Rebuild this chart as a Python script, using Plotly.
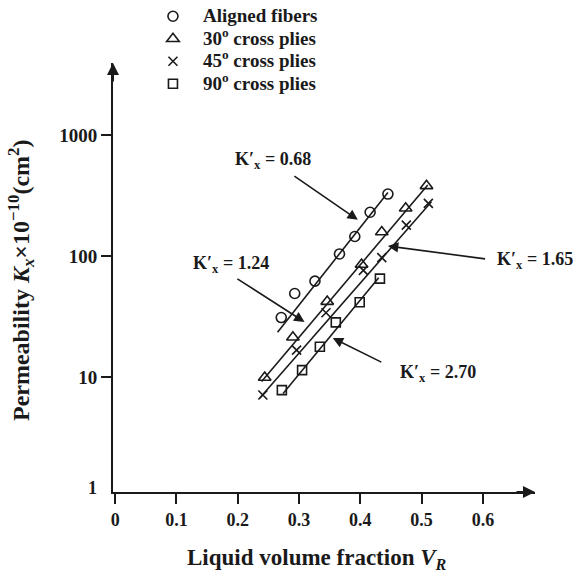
import math
import plotly.graph_objects as go

# ---------------- data ----------------
aligned_x = [0.271, 0.293, 0.326, 0.366, 0.391, 0.416, 0.445]
aligned_y = [31, 49, 62, 104, 145, 230, 325]
aligned_fit_x = [0.265, 0.445]
aligned_fit_y = [23.5, 335]

ply30_x = [0.244, 0.290, 0.346, 0.402, 0.435, 0.474, 0.508]
ply30_y = [9.9, 21.3, 42, 85, 158, 248, 380]
ply30_fit_x = [0.239, 0.510]
ply30_fit_y = [9.2, 386]

ply45_x = [0.241, 0.296, 0.344, 0.405, 0.435, 0.475, 0.511]
ply45_y = [7.1, 16.7, 34, 76, 97, 180, 272]
ply45_fit_x = [0.236, 0.516]
ply45_fit_y = [6.7, 281]

ply90_x = [0.272, 0.305, 0.334, 0.360, 0.399, 0.432]
ply90_y = [7.8, 11.4, 17.8, 28.3, 41.5, 65]
ply90_fit_x = [0.274, 0.430]
ply90_fit_y = [7.3, 66]

series_names = ["Aligned fibers", "30<sup>o</sup> cross plies",
                "45<sup>o</sup> cross plies", "90<sup>o</sup> cross plies"]

x_tick_vals = [0, 0.1, 0.2, 0.3, 0.4, 0.5, 0.6]
x_tick_text = ["0", "0.1", "0.2", "0.3", "0.4", "0.5", "0.6"]
y_tick_vals = [10, 100, 1000]
y_tick_text = ["10", "100", "1000"]

slope_labels = ["K′<sub>x</sub> = 0.68", "K′<sub>x</sub> = 1.24",
                "K′<sub>x</sub> = 1.65", "K′<sub>x</sub> = 2.70"]

x_title = "Liquid volume fraction <i>V<sub>R</sub></i>"
y_title = "Permeability <i>K<sub>x</sub></i>×10<sup>−10</sup>(cm<sup>2</sup>)"

# ---------------- styling / layout positions ----------------
FONT = "Liberation Serif, Times New Roman, serif"
BLACK = "#1a1a1a"

W, H = 573, 578
M_L, M_R, M_T, M_B = 113, 38, 0, 86
PLOT_TOP_PX = 63
PAPER_H = H - M_B - M_T
Y_DOMAIN_TOP = (PAPER_H - PLOT_TOP_PX) / PAPER_H

# label placements: (text x, text value y, tail x, tail value y, tip x, tip value y)
label_pos = [
    (0.192, 618, 0.290, 467, 0.396, 199),
    (0.123, 85, 0.197, 66, 0.309, 28.5),
    (0.620, 92, 0.606, 94.4, 0.445, 121),
    (0.461, 10.6, 0.4367, 13.1, 0.355, 21),
]

fig = go.Figure()

markers = [
    dict(symbol="circle-open", size=10),
    dict(symbol="triangle-up-open", size=11),
    dict(symbol="x-thin-open", size=9),
    dict(symbol="square-open", size=9),
]
data_sets = [
    (aligned_x, aligned_y, aligned_fit_x, aligned_fit_y),
    (ply30_x, ply30_y, ply30_fit_x, ply30_fit_y),
    (ply45_x, ply45_y, ply45_fit_x, ply45_fit_y),
    (ply90_x, ply90_y, ply90_fit_x, ply90_fit_y),
]

for (xs, ys, fx, fy), name, mk in zip(data_sets, series_names, markers):
    fig.add_trace(go.Scatter(
        x=fx, y=fy, mode="lines", showlegend=False, hoverinfo="skip",
        line=dict(color=BLACK, width=1.6)))
    fig.add_trace(go.Scatter(
        x=xs, y=ys, mode="markers",
        name="<span style='font-size:19px'>" + name + "</span>",
        marker=dict(symbol=mk["symbol"], size=mk["size"], color=BLACK,
                    line=dict(color=BLACK, width=1.6))))

annotations = []
for txt, (tx, ty, ax_, ay_, hx, hy) in zip(slope_labels, label_pos):
    annotations.append(dict(
        x=tx, y=math.log10(ty), xref="x", yref="y", text=txt, showarrow=False,
        xanchor="left", yanchor="middle",
        font=dict(family=FONT, size=18, color=BLACK, weight="bold")))
    annotations.append(dict(
        x=hx, y=math.log10(hy), ax=ax_, ay=math.log10(ay_), xref="x", yref="y",
        axref="x", ayref="y", text="", showarrow=True, arrowhead=2,
        arrowsize=1.3, arrowwidth=1.6, arrowcolor=BLACK))

# axis arrowheads
annotations.append(dict(x=0, y=Y_DOMAIN_TOP, xref="paper", yref="paper", ax=0, ay=20,
                        text="", showarrow=True, arrowhead=2, arrowsize=1.2,
                        arrowwidth=2, arrowcolor=BLACK))
annotations.append(dict(x=1, y=0, xref="paper", yref="paper", ax=-20, ay=0,
                        text="", showarrow=True, arrowhead=2, arrowsize=1.2,
                        arrowwidth=2, arrowcolor=BLACK))
# "1" label at the bottom of the log axis
annotations.append(dict(x=0, y=0, xref="paper", yref="paper", text="1",
                        showarrow=False, xanchor="right", yanchor="middle",
                        xshift=-14, yshift=4,
                        font=dict(family=FONT, size=18, color=BLACK, weight="bold")))
# axis titles
annotations.append(dict(x=(317 - M_L) / (W - M_L - M_R), y=(PAPER_H - 559) / PAPER_H,
                        xref="paper", yref="paper", text=x_title, showarrow=False,
                        xanchor="center", yanchor="middle",
                        font=dict(family=FONT, size=23, color=BLACK, weight="bold")))
annotations.append(dict(x=0, y=(PAPER_H - 281) / PAPER_H, xshift=21 - M_L,
                        xref="paper", yref="paper", text=y_title, showarrow=False,
                        textangle=-90, xanchor="center", yanchor="middle",
                        font=dict(family=FONT, size=24, color=BLACK, weight="bold")))

fig.update_layout(
    width=W, height=H,
    margin=dict(l=M_L, r=M_R, t=M_T, b=M_B, autoexpand=False),
    paper_bgcolor="white", plot_bgcolor="white",
    font=dict(family=FONT, color=BLACK, size=18),
    showlegend=True,
    legend=dict(x=0.071, y=1.0, xanchor="left", yanchor="top",
                bgcolor="rgba(0,0,0,0)", itemwidth=50,
                font=dict(family=FONT, size=15, color=BLACK, weight="bold")),
    annotations=annotations,
    xaxis=dict(
        range=[-0.0035, 0.685], showgrid=False, zeroline=False, automargin=False,
        showline=True, linecolor=BLACK, linewidth=2,
        ticks="outside", ticklen=10, tickwidth=2, tickcolor=BLACK,
        tickvals=x_tick_vals, ticktext=x_tick_text,
        tickfont=dict(family=FONT, size=18, color=BLACK, weight="bold"),
    ),
    yaxis=dict(
        type="log", range=[0.05, 3.595], domain=[0, Y_DOMAIN_TOP],
        showgrid=False, zeroline=False, automargin=False,
        showline=True, linecolor=BLACK, linewidth=2,
        ticks="outside", ticklen=10, tickwidth=2, tickcolor=BLACK,
        tickvals=y_tick_vals, ticktext=y_tick_text,
        tickfont=dict(family=FONT, size=19, color=BLACK, weight="bold"),
    ),
)

fig.write_html("out.html")
